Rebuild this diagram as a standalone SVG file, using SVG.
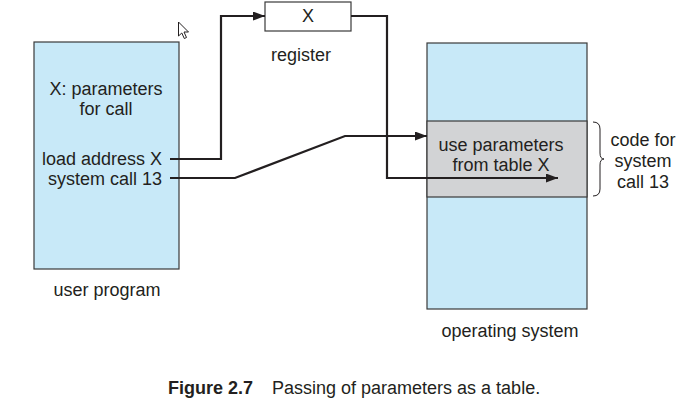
<svg xmlns="http://www.w3.org/2000/svg" width="696" height="416" viewBox="0 0 696 416">
<defs>
<style>
text{font-family:"Liberation Sans",Arial,sans-serif;font-size:18px;fill:#231f20}
.c{text-anchor:middle}
.box{fill:#c8e9f8;stroke:#3a3a3a;stroke-width:1.2}
.gray{fill:#d2d3d5;stroke:#3a3a3a;stroke-width:1.2}
.wire{fill:none;stroke:#231f20;stroke-width:2.2}
</style>
<marker id="ah" markerUnits="userSpaceOnUse" markerWidth="12" markerHeight="9" refX="12" refY="4.5" orient="auto">
<path d="M0,0 L12,4.5 L0,9 z" fill="#231f20"/>
</marker>
</defs>
<rect width="696" height="416" fill="#fff"/>
<g id="user-program">
<rect class="box" x="34" y="42" width="145" height="227"/>
<text class="c" x="106" y="95">X: parameters</text>
<text class="c" x="106" y="115">for call</text>
<text x="162" y="165" text-anchor="end">load address X</text>
<text x="162" y="185" text-anchor="end">system call 13</text>
<text class="c" x="107" y="296">user program</text>
</g>
<g id="register">
<rect x="265" y="2" width="86" height="29" fill="#fff" stroke="#3a3a3a" stroke-width="1.2"/>
<text class="c" x="308" y="22">X</text>
<text class="c" x="301" y="61">register</text>
</g>
<g id="operating-system">
<rect class="box" x="427" y="43" width="160" height="266"/>
<rect class="gray" x="427" y="121" width="160" height="76"/>
<text class="c" x="501" y="151">use parameters</text>
<text class="c" x="501" y="171">from table X</text>
<text class="c" x="510" y="337">operating system</text>
</g>
<g id="code-brace">
<path d="M593,122 Q600,122 600,129 V153 Q600,159 604,159 Q600,159 600,165 V189 Q600,196 593,196" fill="none" stroke="#231f20" stroke-width="1"/>
<text class="c" x="643" y="146">code for</text>
<text class="c" x="643" y="167">system</text>
<text class="c" x="643" y="188">call 13</text>
</g>
<g id="connectors">
<path class="wire" d="M170,159 H221 V16 H265" marker-end="url(#ah)"/>
<path class="wire" d="M170,178 H235 L345,136 H427" marker-end="url(#ah)"/>
<path class="wire" d="M351,16 H387 V178 H558" marker-end="url(#ah)"/>
</g>
<g id="cursor">
<path d="M178.5,22 V36 L181.8,33 L184.3,38.5 L186.5,37.5 L184,32 H188.5 Z" fill="#fff" stroke="#231f20" stroke-width="1"/>
</g>
<g id="caption">
<text x="168" y="394" font-weight="bold" font-size="18.5">Figure 2.7</text>
<text x="272" y="394" font-size="18.5">Passing of parameters as a table.</text>
</g>
</svg>
